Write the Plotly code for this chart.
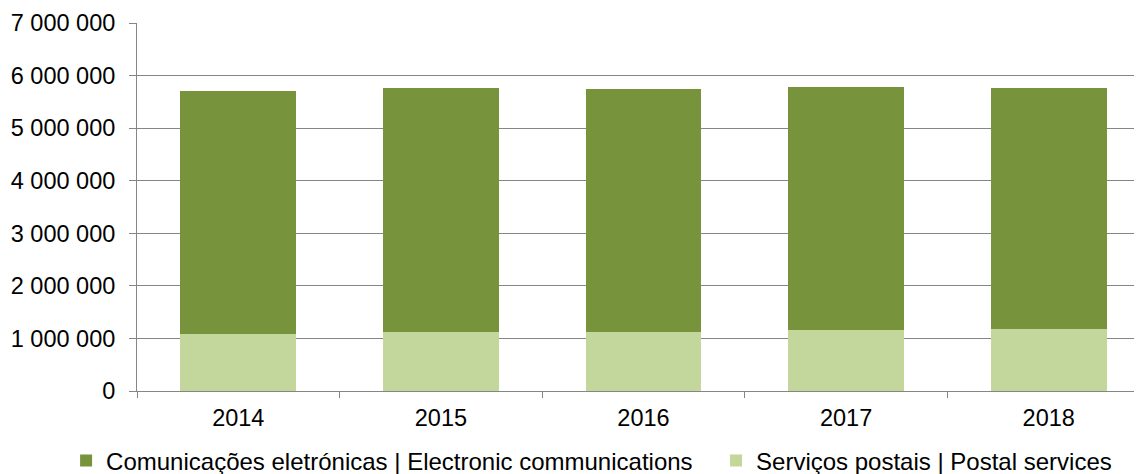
import plotly.graph_objects as go

years = ["2014", "2015", "2016", "2017", "2018"]
electronic = [4629000, 4648000, 4623000, 4629000, 4591000]
postal = [1078000, 1116000, 1122000, 1154000, 1173000]

name_elec = "Comunicações eletrónicas | Electronic communications"
name_post = "Serviços postais | Postal services"

FONT = "Liberation Sans, Arial, sans-serif"
GRID = "#868686"
FS = 23.5

fig = go.Figure()
fig.add_trace(go.Bar(x=years, y=postal, name=name_post, marker=dict(color="#C3D69B", line=dict(width=0)),
                     legend="legend2", showlegend=True))
fig.add_trace(go.Bar(x=years, y=electronic, name=name_elec, marker=dict(color="#77933C", line=dict(width=0)),
                     legend="legend", showlegend=True))

fig.update_layout(
    barmode="stack",
    bargap=0.428,
    showlegend=True,
    width=1142, height=474,
    margin=dict(l=129, r=0, t=15, b=91, autoexpand=False),
    paper_bgcolor="white", plot_bgcolor="white",
    font=dict(family=FONT, size=FS, color="black"),
    separators=", ",
    legend=dict(orientation="h", x=-0.070, y=-0.19, xanchor="left", yanchor="middle",
                font=dict(size=24), itemwidth=30, bgcolor="rgba(0,0,0,0)"),
    legend2=dict(orientation="h", x=0.5716, y=-0.19, xanchor="left", yanchor="middle",
                 font=dict(size=24), itemwidth=30, bgcolor="rgba(0,0,0,0)"),
)
fig.update_xaxes(
    type="category", range=[-0.5, 4.5], automargin=False,
    showline=True, linecolor=GRID, linewidth=1,
    ticks="outside", tickson="boundaries", ticklen=6, tickcolor=GRID,
    showgrid=False, tickfont=dict(size=FS), ticklabelstandoff=6,
)
fig.update_yaxes(
    range=[0, 7000000], dtick=1000000, tickformat=",d", automargin=False,
    showline=True, linecolor=GRID, linewidth=1,
    ticks="outside", ticklen=7, tickcolor=GRID,
    showgrid=True, gridcolor=GRID, gridwidth=1,
    zeroline=False, tickfont=dict(size=FS), ticklabelstandoff=9,
)

fig.write_html("out.html")
